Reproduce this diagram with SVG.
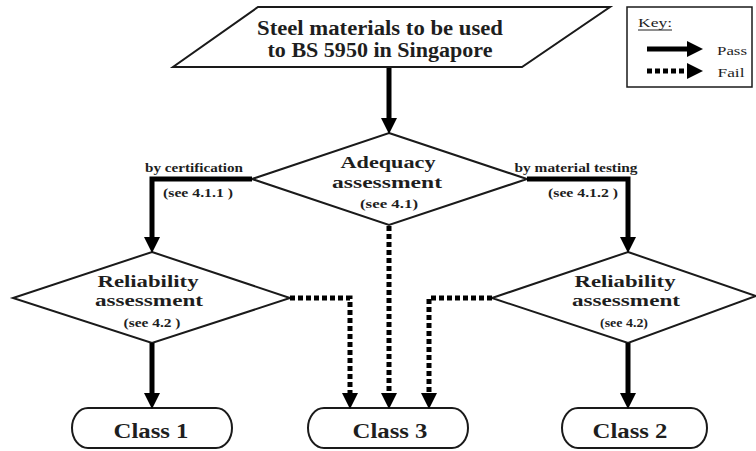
<svg xmlns="http://www.w3.org/2000/svg" width="756" height="451" viewBox="0 0 756 451">
<style>
.shape{fill:#fff;stroke:#1a1a1a;stroke-width:2}
.pass{fill:none;stroke:#000;stroke-width:5;stroke-linejoin:miter}
.fail{fill:none;stroke:#000;stroke-width:5;stroke-dasharray:5 3;stroke-linejoin:miter}
.t{font-family:"Liberation Serif","Times New Roman",serif;font-weight:bold;fill:#1e1e1e;text-anchor:middle}
.big{font-size:20px}
.mid{font-size:17px}
.sm{font-size:13px}
.kt{font-family:"Liberation Serif","Times New Roman",serif;font-size:13px;fill:#1e1e1e;text-anchor:middle}
</style>
<defs>
<marker id="ah" viewBox="0 0 16 16" refX="0" refY="8" markerWidth="16" markerHeight="16" markerUnits="userSpaceOnUse" orient="auto">
<path d="M0,0 L16,8 L0,16 z" fill="#000"/>
</marker>
</defs>
<rect width="756" height="451" fill="#fff"/>
<g id="start">
<polygon class="shape" points="258,7 610,7 522,67 173,67"/>
<text class="t big" x="380" y="35" textLength="246" lengthAdjust="spacingAndGlyphs">Steel materials to be used</text>
<text class="t big" x="380" y="57" textLength="225" lengthAdjust="spacingAndGlyphs">to BS 5950 in Singapore</text>
</g>
<g id="key">
<rect x="627" y="7" width="125" height="80" fill="#fff" stroke="#1a1a1a" stroke-width="1.5"/>
<text class="kt" x="655" y="27" textLength="34" lengthAdjust="spacingAndGlyphs">Key:</text>
<line x1="638" y1="30" x2="672" y2="30" stroke="#1e1e1e" stroke-width="1"/>
<path class="pass" d="M647,49 H687" marker-end="url(#ah)"/>
<path class="fail" d="M647,71 H687" marker-end="url(#ah)"/>
<text class="kt" x="732" y="55" textLength="30" lengthAdjust="spacingAndGlyphs">Pass</text>
<text class="kt" x="731" y="77" textLength="27" lengthAdjust="spacingAndGlyphs">Fail</text>
</g>
<g id="adequacy">
<polygon class="shape" points="389,133 527,179 389,225 252,179"/>
<text class="t mid" x="388" y="168" textLength="95" lengthAdjust="spacingAndGlyphs">Adequacy</text>
<text class="t mid" x="387" y="188" textLength="110" lengthAdjust="spacingAndGlyphs">assessment</text>
<text class="t sm" x="389" y="208" textLength="58" lengthAdjust="spacingAndGlyphs">(see 4.1)</text>
</g>
<g id="reliability-left">
<polygon class="shape" points="152,252 290,298 152,343 13,298"/>
<text class="t mid" x="148" y="287" textLength="101" lengthAdjust="spacingAndGlyphs">Reliability</text>
<text class="t mid" x="149" y="306" textLength="108" lengthAdjust="spacingAndGlyphs">assessment</text>
<text class="t sm" x="152" y="327" textLength="57" lengthAdjust="spacingAndGlyphs">(see 4.2 )</text>
</g>
<g id="reliability-right">
<polygon class="shape" points="628,252 756,296 628,343 492,298"/>
<text class="t mid" x="625" y="287" textLength="101" lengthAdjust="spacingAndGlyphs">Reliability</text>
<text class="t mid" x="626" y="306" textLength="108" lengthAdjust="spacingAndGlyphs">assessment</text>
<text class="t sm" x="624" y="327" textLength="48" lengthAdjust="spacingAndGlyphs">(see 4.2)</text>
</g>
<g id="class1">
<rect class="shape" x="72" y="408" width="160" height="40" rx="16" ry="20"/>
<text class="t big" x="151" y="438" textLength="75" lengthAdjust="spacingAndGlyphs">Class 1</text>
</g>
<g id="class3">
<rect class="shape" x="308" y="408" width="160" height="40" rx="16" ry="20"/>
<text class="t big" x="390" y="438" textLength="75" lengthAdjust="spacingAndGlyphs">Class 3</text>
</g>
<g id="class2">
<rect class="shape" x="562" y="408" width="145" height="40" rx="16" ry="20"/>
<text class="t big" x="630" y="438" textLength="75" lengthAdjust="spacingAndGlyphs">Class 2</text>
</g>
<g id="connectors">
<path class="pass" d="M389,68 V118" marker-end="url(#ah)"/>
<path class="pass" d="M252,179 H152 V237" marker-end="url(#ah)"/>
<path class="pass" d="M527,179 H628 V237" marker-end="url(#ah)"/>
<path class="pass" d="M152,343 V393" marker-end="url(#ah)"/>
<path class="pass" d="M628,343 V393" marker-end="url(#ah)"/>
<path class="fail" d="M290,298 H350 V393" marker-end="url(#ah)"/>
<path class="fail" d="M389,226 V393" marker-end="url(#ah)"/>
<path class="fail" d="M492,298 H429 V393" marker-end="url(#ah)"/>
<text class="t sm" x="194" y="172" textLength="98" lengthAdjust="spacingAndGlyphs">by certification</text>
<text class="t sm" x="198" y="197" textLength="70" lengthAdjust="spacingAndGlyphs">(see 4.1.1 )</text>
<text class="t sm" x="576" y="172" textLength="123" lengthAdjust="spacingAndGlyphs">by material testing</text>
<text class="t sm" x="583" y="197" textLength="70" lengthAdjust="spacingAndGlyphs">(see 4.1.2 )</text>
</g>
</svg>
